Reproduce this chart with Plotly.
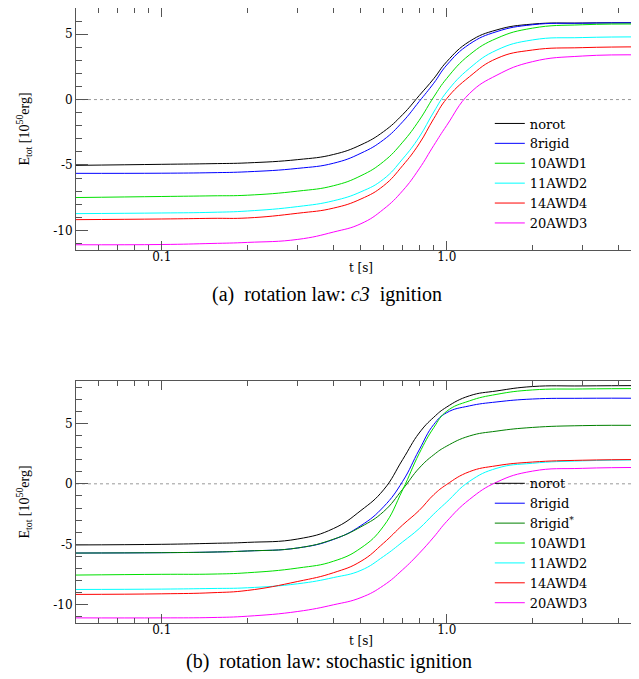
import math
import plotly.graph_objects as go

# time samples [s]
t = [0.05, 0.1, 0.15, 0.2, 0.3, 0.4, 0.5, 0.6, 0.7, 0.8, 0.9, 1.0, 1.2, 1.5, 2.0, 3.0, 5.0]

# (a) c3 ignition, E_tot in 1e50 erg
norot_a = [-5.03, -4.95, -4.90, -4.84, -4.59, -4.20, -3.46, -2.45, -1.15, 0.30, 1.60, 2.90, 4.44, 5.33, 5.77, 5.85, 5.87]
rigid8_a = [-5.64, -5.63, -5.59, -5.52, -5.26, -4.87, -4.10, -3.08, -1.70, -0.15, 1.25, 2.64, 4.23, 5.20, 5.72, 5.84, 5.86]
awd1_a = [-7.49, -7.41, -7.36, -7.31, -7.00, -6.59, -5.82, -4.74, -3.26, -1.59, 0.20, 1.62, 3.41, 4.69, 5.46, 5.72, 5.77]
awd2_a = [-8.72, -8.67, -8.62, -8.52, -8.18, -7.74, -7.05, -6.08, -4.54, -2.87, -0.95, 0.59, 2.38, 3.79, 4.56, 4.74, 4.79]
awd4_a = [-9.18, -9.13, -9.08, -9.05, -8.69, -8.30, -7.60, -6.59, -5.05, -3.38, -1.46, 0.08, 1.74, 3.15, 3.79, 3.97, 4.03]
awd3_a = [-11.10, -11.08, -11.00, -10.92, -10.69, -10.13, -9.49, -8.38, -6.97, -5.30, -3.51, -1.97, 0.45, 1.87, 2.90, 3.33, 3.41]

# (b) stochastic ignition
norot_b = [-5.05, -5.00, -4.92, -4.84, -4.56, -3.70, -2.20, -0.50, 2.00, 4.20, 5.50, 6.35, 7.27, 7.68, 8.04, 8.09, 8.12]
rigid8_b = [-5.72, -5.69, -5.64, -5.55, -5.30, -4.60, -3.45, -1.90, 0.20, 2.80, 4.90, 5.88, 6.44, 6.77, 7.01, 7.07, 7.07]
rigid8s_b = [-5.72, -5.69, -5.64, -5.55, -5.30, -4.58, -3.55, -2.30, -0.45, 1.30, 2.40, 3.12, 3.95, 4.36, 4.66, 4.81, 4.83]
awd1_b = [-7.54, -7.48, -7.46, -7.35, -6.96, -6.40, -5.30, -3.50, -0.50, 2.50, 4.64, 6.00, 6.85, 7.40, 7.76, 7.84, 7.87]
awd2_b = [-8.73, -8.70, -8.65, -8.59, -8.26, -7.75, -7.15, -6.00, -4.80, -3.70, -2.50, -1.50, 0.20, 1.29, 1.70, 1.90, 1.98]
awd4_b = [-9.14, -9.09, -9.00, -8.81, -8.07, -7.35, -6.40, -4.90, -3.40, -2.20, -0.90, -0.05, 1.00, 1.50, 1.80, 1.95, 2.01]
awd3_b = [-11.08, -11.08, -11.05, -10.94, -10.55, -10.00, -9.40, -8.40, -7.10, -5.75, -4.40, -3.10, -1.30, 0.15, 1.05, 1.28, 1.35]

names_a = ["norot", "8rigid", "10AWD1", "11AWD2", "14AWD4", "20AWD3"]
series_a = [norot_a, rigid8_a, awd1_a, awd2_a, awd4_a, awd3_a]
colors_a = ["#000000", "#0000ff", "#00e000", "#00ffff", "#ff0000", "#ff00ff"]

names_b = ["norot", "8rigid", "8rigid<sup>*</sup>", "10AWD1", "11AWD2", "14AWD4", "20AWD3"]
series_b = [norot_b, rigid8_b, rigid8s_b, awd1_b, awd2_b, awd4_b, awd3_b]
colors_b = ["#000000", "#0000ff", "#008000", "#00e000", "#00ffff", "#ff0000", "#ff00ff"]

x_major = [0.1, 1.0]
x_major_txt = ["0.1", "1.0"]
x_minor = [0.06, 0.07, 0.08, 0.09, 0.2, 0.3, 0.4, 0.5, 0.6, 0.7, 0.8, 0.9, 2, 3, 4, 5]
y_major = [-10, -5, 0, 5]
y_major_txt = ["-10", "-5", "0", "5"]

FONT = "DejaVu Serif"
SERIF = "Liberation Serif, Times New Roman, serif"
AX = "#555555"

fig = go.Figure()

for name, vals, col in zip(names_a, series_a, colors_a):
    fig.add_trace(go.Scatter(x=t, y=vals, name=name, mode="lines",
                             line=dict(color=col, width=1, shape="spline", smoothing=1.3),
                             xaxis="x", yaxis="y", legend="legend"))

for name, vals, col in zip(names_b, series_b, colors_b):
    fig.add_trace(go.Scatter(x=t, y=vals, name=name, mode="lines",
                             line=dict(color=col, width=1, shape="spline", smoothing=1.3),
                             xaxis="x2", yaxis="y2", legend="legend2"))

# dotted zero lines
for yr, xr in [("y", "x domain"), ("y2", "x2 domain")]:
    fig.add_shape(type="line", xref=xr, yref=yr, x0=0, x1=1, y0=0, y1=0,
                  line=dict(color="#999999", width=1, dash="dot"), layer="below")


def xaxis(anchor):
    return dict(domain=[0.1064, 0.9984], anchor=anchor, type="log",
                range=[math.log10(0.05), math.log10(5)],
                tickmode="array", tickvals=x_major, ticktext=x_major_txt,
                ticks="inside", ticklen=9, tickcolor=AX, showline=True, linecolor=AX,
                mirror="ticks", showgrid=False, zeroline=False, ticklabelstandoff=-4,
                minor=dict(ticks="inside", ticklen=5, tickcolor=AX, tickmode="array",
                           tickvals=x_minor, showgrid=False),
                tickfont=dict(family=FONT, size=12, color="black"),
                title=dict(text="t [s]", standoff=0, font=dict(family=FONT, size=12, color="black")))


def yaxis(anchor, dom, rng):
    return dict(domain=dom, anchor=anchor, range=rng,
                tickmode="array", tickvals=y_major, ticktext=y_major_txt,
                ticks="inside", ticklen=12, tickcolor=AX, showline=True, linecolor=AX,
                mirror="ticks", showgrid=False, zeroline=False,
                minor=dict(ticks="inside", ticklen=6, tickcolor=AX, dtick=1, tick0=0, showgrid=False),
                tickfont=dict(family=FONT, size=12, color="black"),
                title=dict(text="E<sub>tot</sub> [10<sup>50</sup>erg]", standoff=20,
                           font=dict(family=SERIF, size=14, color="black")))


fig.update_layout(
    width=639, height=679,
    margin=dict(l=0, r=0, t=0, b=0),
    paper_bgcolor="white", plot_bgcolor="white",
    xaxis=xaxis("y"),
    yaxis=yaxis("x", [0.6436, 1.0], [-11.5, 7.0]),
    xaxis2=xaxis("y2"),
    yaxis2=yaxis("x2", [0.0943, 0.4507], [-11.5, 8.5]),
    legend=dict(x=0.754, y=0.852, xanchor="left", yanchor="top", bgcolor="rgba(0,0,0,0)",
                font=dict(family=FONT, size=13, color="black")),
    legend2=dict(x=0.754, y=0.322, xanchor="left", yanchor="top", bgcolor="rgba(0,0,0,0)",
                 font=dict(family=FONT, size=13, color="black")),
    annotations=[
        dict(text="(a)\u00a0\u00a0rotation law: <i>c3</i>\u00a0\u00a0ignition", xref="paper", yref="paper",
             x=0.499, y=0.578, xanchor="center", yanchor="middle", showarrow=False,
             font=dict(family=SERIF, size=20, color="black")),
        dict(text="(b)\u00a0\u00a0rotation law: stochastic ignition", xref="paper", yref="paper",
             x=0.503, y=0.037, xanchor="center", yanchor="middle", showarrow=False,
             font=dict(family=SERIF, size=20, color="black")),
    ],
)

fig.write_html("out.html")
